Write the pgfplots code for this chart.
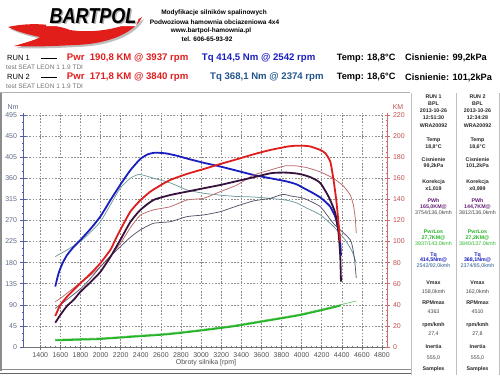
\documentclass[border=0pt]{standalone}
\usepackage{fontspec}
\setmainfont{Liberation Sans}
\usepackage{graphicx}
\usepackage{pgfplots}
\pgfplotsset{compat=1.18}
\definecolor{tqblue}{RGB}{25,30,190}
\definecolor{pwrred}{RGB}{222,30,30}
\definecolor{whdark}{RGB}{55,18,60}
\definecolor{tqteal}{RGB}{110,155,155}
\definecolor{pwrbrown}{RGB}{185,105,105}
\definecolor{whgray}{RGB}{85,85,105}
\definecolor{lossgreen}{RGB}{40,180,40}
\definecolor{lossgreen2}{RGB}{110,200,110}
\definecolor{leftax}{RGB}{80,95,165}
\definecolor{leftlab}{RGB}{95,105,135}
\definecolor{rightax}{RGB}{200,110,110}
\definecolor{rightlab}{RGB}{190,80,80}
\definecolor{tqtwo}{RGB}{35,85,140}
\definecolor{pwhpurple}{RGB}{100,30,120}
\definecolor{flame}{RGB}{225,30,25}
\definecolor{xlab}{RGB}{80,80,80}
\newcommand{\fs}[1]{\fontsize{#1}{#1}\selectfont}
\newcommand{\prow}[4]{\node[#4] at (433.5,#1) {#2}; \node[#4] at (477.5,#1) {#3};}
\begin{document}
\begin{tikzpicture}
\useasboundingbox (0pt,0pt) rectangle (500pt,-375pt);
% ---------------- torque axis (left) ----------------
\begin{axis}[
  at={(23pt,-347pt)}, anchor=south west,
  scale only axis, width=364pt, height=234.4pt,
  xmin=1228, xmax=4850, ymin=0, ymax=500,
  axis x line*=bottom, axis y line*=left,
  xtick={1400,1600,...,4800}, ytick={0,45,...,495},
  minor x tick num=3, minor y tick num=2,
  grid=major,
  major grid style={dash pattern=on 1.6pt off 1.6pt, black!45, line width=0.55pt},
  tick align=center, major tick length=5pt, minor tick length=2.5pt,
  x axis line style={black!55, line width=0.7pt},
  y axis line style={leftax, line width=0.8pt},
  every x tick/.style={black!55, line width=0.5pt},
  every y tick/.style={leftax, line width=0.5pt},
  /pgf/number format/assume math mode=true,
  /pgf/number format/1000 sep={},
  xticklabel style={font=\fs{7}, text=xlab},
  yticklabel style={font=\fs{7}, text=leftlab},
  clip=false,
]
\addplot[tqteal, line width=0.75pt, smooth, tension=0.35] coordinates {
(1549,193) (1666,207) (1798,225) (1900,245) (1997,267) (2097,303) (2196,339)
(2296,360) (2378,368.1) (2450,365) (2527,360) (2694,350) (2860,335) (3025,328)
(3191,324) (3357,321) (3522,320) (3689,317) (3855,313) (3954,307) (4054,296)
(4186,282) (4318,257) (4435,228) (4505,203) (4540,181)};
\addplot[tqblue, line width=1.8pt, smooth, tension=0.35] coordinates {
(1549,129) (1582,157) (1620,178) (1666,196) (1730,213) (1798,228) (1900,252)
(1997,278) (2097,313) (2196,346) (2296,377) (2395,401) (2470,411) (2542,414.5)
(2650,413) (2760,408) (2860,402) (3025,393) (3191,385) (3357,376) (3522,367)
(3689,360) (3855,353) (3950,347) (4020,339) (4100,330) (4186,319) (4236,310)
(4286,299) (4335,278) (4368,250) (4385,222) (4392,195)};
\end{axis}
% ---------------- power axis (right) ----------------
\begin{axis}[
  at={(23pt,-347pt)}, anchor=south west,
  scale only axis, width=364pt, height=234.4pt,
  xmin=1228, xmax=4850, ymin=0, ymax=222.22,
  axis x line=none, axis y line*=right,
  ytick={0,20,...,220}, minor y tick num=3,
  tick align=center, major tick length=5pt, minor tick length=2.5pt,
  y axis line style={rightax, line width=0.8pt},
  every y tick/.style={rightax, line width=0.5pt},
  /pgf/number format/assume math mode=true,
  yticklabel style={font=\fs{7}, text=rightlab},
  clip=false,
]
\addplot[lossgreen2, line width=0.7pt, smooth, tension=0.35] coordinates {
(1549,7.3) (1997,8.6) (2329,10.8) (2660,13) (2990,16.5) (3322,20.6) (3655,25.9)
(3986,31.3) (4318,38.6) (4418,40.8) (4544,43.6)};
\addplot[pwrbrown, line width=0.75pt, smooth, tension=0.35] coordinates {
(1549,43) (1599,46) (1666,51) (1798,61) (1900,68) (1997,76) (2097,86) (2196,98)
(2296,113) (2395,125) (2527,130) (2694,133) (2860,139.4) (3025,141) (3191,147.3)
(3357,153.6) (3522,163) (3689,167.8) (3840,171.8) (3954,171.6) (4054,170)
(4186,166) (4315,160) (4415,152.7) (4485,144) (4515,134.7) (4534,122.3) (4544,108)};
\addplot[whgray, line width=0.75pt, smooth, tension=0.35] coordinates {
(1549,36.7) (1599,40) (1666,45) (1798,55) (1900,65) (1997,76) (2097,86) (2196,95)
(2296,104) (2395,111) (2527,117.3) (2694,118.8) (2860,123.6) (3025,125.2)
(3191,128.3) (3357,133.7) (3522,138.5) (3689,141) (3812,144.7) (3900,143)
(4020,141) (4186,133) (4318,117) (4485,101.5) (4525,84.4) (4544,65.4)};
\addplot[lossgreen, line width=1.8pt, smooth, tension=0.35] coordinates {
(1549,6.3) (1800,7) (1997,7.6) (2329,9.8) (2660,12) (2990,15.5) (3322,19.6)
(3655,24.9) (3986,30.3) (4318,37.6) (4390,39.5)};
\addplot[whdark, line width=1.8pt, smooth, tension=0.35] coordinates {
(1549,23) (1599,30.3) (1666,38.9) (1731,44.6) (1798,52.2) (1900,61.5) (1997,71.1)
(2097,85.3) (2196,101.5) (2296,118.5) (2395,129.9) (2527,139.4) (2694,144.1)
(2860,147.3) (3025,150.5) (3191,153.6) (3357,157.3) (3522,160.9) (3689,164.7)
(3768,165.3) (3855,165.3) (3950,164.5) (4020,163.1) (4100,160.5) (4186,155.5)
(4269,142.5) (4335,127.1) (4368,108.1) (4385,85.6) (4392,61.9)};
\addplot[pwrred, line width=1.8pt, smooth, tension=0.35] coordinates {
(1549,29.4) (1599,39.8) (1666,47.7) (1730,54) (1798,60.4) (1900,69.5) (1997,79.4)
(2097,92) (2146,101.5) (2196,111) (2296,128.3) (2395,139) (2495,147.3) (2600,153.5)
(2694,158.4) (2860,164.1) (3025,168.7) (3191,173.5) (3357,178) (3522,182.7)
(3689,186.8) (3858,190) (3937,190.8) (4020,190.8) (4087,190.1) (4186,186.8)
(4236,183.7) (4286,175.7) (4318,158.4) (4345,139.4) (4368,117.3) (4385,100)};
\end{axis}
% ---------------- decorations (px coordinates, y down) ----------------
\begin{scope}[x=1pt,y=-1pt]
% logo flame
\fill[black!25] (10,29) .. controls (32,24) and (57,26) .. (72,32)
  .. controls (97,36) and (127,30) .. (144,19)
  .. controls (137,34) and (112,46) .. (77,47)
  .. controls (57,48) and (37,49) .. (16,48)
  .. controls (30,44) and (40,41) .. (42,39)
  .. controls (32,37) and (20,34) .. (10,29) -- cycle;
\fill[flame] (8,27) .. controls (30,22) and (55,24) .. (70,30)
  .. controls (95,34) and (125,28) .. (142,17)
  .. controls (135,32) and (110,44) .. (75,45)
  .. controls (55,46) and (35,47) .. (14,46)
  .. controls (28,42) and (38,39) .. (40,37)
  .. controls (30,35) and (18,32) .. (8,27) -- cycle;
\fill[white] (52,9) -- (142,9) -- (136,26) -- (46,26) -- cycle;
\node[text=black!30] at (94.5,17.5) {\scalebox{1}[1.2]{\fs{18}\bfseries\itshape BARTPOL}};
\node[text=black] at (93,16.5) {\scalebox{1}[1.2]{\fs{18}\bfseries\itshape BARTPOL}};
% header text
\node[font=\bfseries\fs{6.5}] at (214,12.7) {Modyfikacje silników spalinowych};
\node[font=\bfseries\fs{6.5}] at (214.5,21.7) {Podwoziowa hamownia obciazeniowa 4x4};
\node[font=\bfseries\fs{6.5}] at (211,30.7) {www.bartpol-hamownia.pl};
\node[font=\bfseries\fs{6.5}] at (207,39.3) {tel. 606-65-93-92};
% legend rows
\node[font=\fs{7.5}, anchor=west, inner sep=0pt] at (7,57.7) {RUN 1};
\draw[black, line width=1.4pt] (40.7,58.3) -- (57.3,58.3);
\node[font=\bfseries\fs{9.6}, text=pwrred, anchor=west, inner sep=0pt] at (66.7,58.3) {Pwr\ \ 190,8 KM @ 3937 rpm};
\node[font=\bfseries\fs{9.6}, text=tqblue, anchor=west, inner sep=0pt] at (201.7,58.3) {Tq 414,5 Nm @ 2542 rpm};
\node[font=\bfseries\fs{9.2}, anchor=west, inner sep=0pt] at (336.7,58.3) {Temp: 18,8°C};
\node[font=\bfseries\fs{9.2}, anchor=west, inner sep=0pt] at (405,58.3) {Cisnienie: 99,2kPa};
\node[font=\fs{6.5}, text=black!55, anchor=west, inner sep=0pt] at (6,67.7) {test SEAT LEON 1 1.9 TDI};
\node[font=\fs{7.5}, anchor=west, inner sep=0pt] at (7,77.3) {RUN 2};
\draw[black, line width=0.6pt] (40.7,77.5) -- (57.3,77.5);
\node[font=\bfseries\fs{9.6}, text=pwrred, anchor=west, inner sep=0pt] at (66.7,77.5) {Pwr\ \ 171,8 KM @ 3840 rpm};
\node[font=\bfseries\fs{9.6}, text=tqtwo, anchor=west, inner sep=0pt] at (210,77.5) {Tq 368,1 Nm @ 2374 rpm};
\node[font=\bfseries\fs{9.2}, anchor=west, inner sep=0pt] at (336.7,77.5) {Temp: 18,6°C};
\node[font=\bfseries\fs{9.2}, anchor=west, inner sep=0pt] at (405,77.5) {Cisnienie: 101,2kPa};
\node[font=\fs{6.5}, text=black!55, anchor=west, inner sep=0pt] at (6,86.7) {test SEAT LEON 1 1.9 TDI};
% frame
\draw[black!30, line width=0.8pt] (0,92.5) -- (410,92.5);
\draw[black!45, line width=1.5pt] (1.2,92.5) -- (1.2,371);
\draw[black!45, line width=1.5pt] (0,369.5) -- (411,369.5);
\draw[black!60, line width=1pt] (0,373.5) -- (411,373.5);
\draw[black!25, line width=0.8pt] (411,93) -- (411,375);
\draw[black!25, line width=0.8pt] (456,93) -- (456,375);
\draw[black!25, line width=0.8pt] (499.3,93) -- (499.3,375);
% axis titles
\node[font=\fs{7}, text=leftlab] at (13,107) {Nm};
\node[font=\fs{7}, text=rightlab] at (398,107) {KM};
\node[font=\fs{7}, text=xlab] at (206,363) {Obroty silnika [rpm]};
% right panel
\tikzset{pb/.style={font=\bfseries\fs{5.3}, text=black!85, inner sep=0pt},
         pr/.style={font=\fs{5.3}, text=black!75, inner sep=0pt}}
\prow{97}{RUN 1}{RUN 2}{pb}
\prow{104}{BPL}{BPL}{pb}
\prow{111}{2013-10-26}{2013-10-26}{pb}
\prow{118}{12:51:30}{12:34:28}{pb}
\prow{126}{WRA20092}{WRA20092}{pb}
\prow{140}{Temp}{Temp}{pb}
\prow{147}{18,8°C}{18,6°C}{pb}
\prow{160}{Cisnienie}{Cisnienie}{pb}
\prow{166}{99,2kPa}{101,2kPa}{pb}
\prow{182}{Korekcja}{Korekcja}{pb}
\prow{189}{x1,019}{x0,999}{pb}
\prow{201}{PWh}{PWh}{pb, text=pwhpurple}
\prow{207}{165,0KM@}{144,7KM@}{pb, text=pwhpurple}
\prow{213}{3754/136,0kmh}{3812/136,0kmh}{pr}
\prow{232}{PwrLos}{PwrLos}{pb, text=lossgreen}
\prow{238}{27,7KM@}{27,2KM@}{pb, text=lossgreen}
\prow{243.5}{3937/143,0kmh}{3840/137,0kmh}{pr, text=lossgreen}
\prow{255}{Tq}{Tq}{pb, text=tqblue}
\prow{260.5}{414,5Nm@}{368,1Nm@}{pb, text=tqblue}
\prow{266}{2542/92,0kmh}{2374/85,0kmh}{pr, text=tqtwo}
\prow{283}{Vmax}{Vmax}{pb}
\prow{292}{158,0kmh}{162,0kmh}{pr}
\prow{303}{RPMmax}{RPMmax}{pb}
\prow{312}{4363}{4510}{pr}
\prow{325}{rpm/kmh}{rpm/kmh}{pb}
\prow{334}{27,4}{27,8}{pr}
\prow{347}{Inertia}{Inertia}{pb}
\prow{358}{555,0}{555,0}{pr}
\prow{369}{Samples}{Samples}{pb}
\end{scope}
\end{tikzpicture}
\end{document}
